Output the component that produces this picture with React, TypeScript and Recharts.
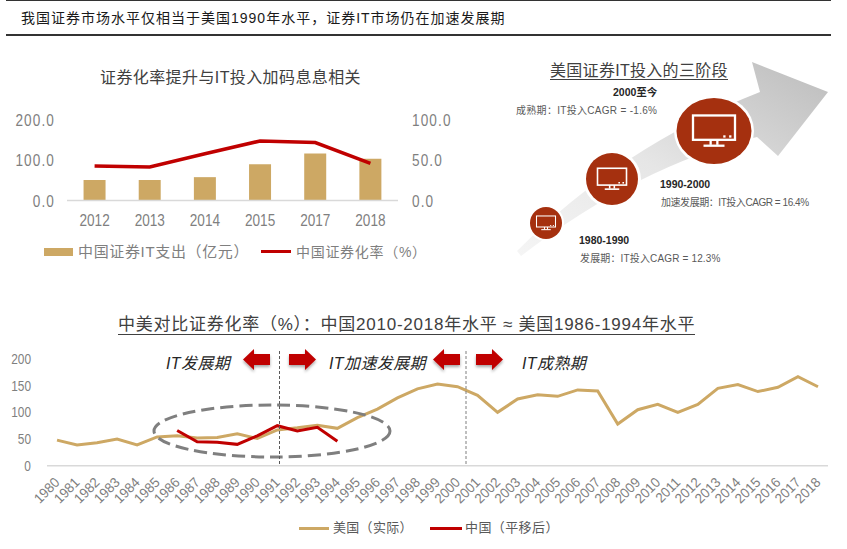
import { Bar, ComposedChart, Legend, Line, LineChart, XAxis, YAxis } from "recharts";

const CJK = '"Liberation Sans", "Noto Sans CJK SC", sans-serif';
const GOLD = "#cda864";
const RED = "#c00000";
const GREY = "#7f7f7f";
const BRICK = "#a5300f";

// top chart
const itYears = ["2012", "2013", "2014", "2015", "2017", "2018"];
const itSpend = [51, 51, 58, 90, 117, 104];
const secRate = [43, 41.6, 58, 74, 72, 46];
const itData = itYears.map((year, i) => ({ year, spend: itSpend[i], rate: secRate[i] }));

// bottom chart
const years = [
  "1980", "1981", "1982", "1983", "1984", "1985", "1986", "1987", "1988", "1989",
  "1990", "1991", "1992", "1993", "1994", "1995", "1996", "1997", "1998", "1999",
  "2000", "2001", "2002", "2003", "2004", "2005", "2006", "2007", "2008", "2009",
  "2010", "2011", "2012", "2013", "2014", "2015", "2016", "2017", "2018",
];
const usRate = [
  48, 39, 43, 50, 39, 54, 56, 52, 53, 60,
  51, 67, 71, 76, 70, 90, 106, 127, 144, 153,
  148, 132, 100, 125, 133, 130, 142, 140, 78, 105,
  115, 100, 115, 145, 152, 139, 147, 167, 148,
];
const chinaYears = ["1986", "1987", "1988", "1989", "1990", "1991", "1992", "1993", "1994"];
const chinaRate = [66, 45, 44, 40, 56, 75, 65, 72, 46];
const compareData = years.map((year, i) => {
  const c = chinaYears.indexOf(year);
  return { year, us: usRate[i], china: c >= 0 ? chinaRate[c] : null };
});

function Txt({ x, y, size, color = "#262626", spacing = 0, bold, italic, underline, children }: any) {
  return (
    <div
      style={{
        position: "absolute",
        left: x,
        top: y,
        fontSize: size,
        lineHeight: `${underline ? size + 1 : size + 4}px`,
        color,
        letterSpacing: spacing,
        fontWeight: bold ? 700 : 400,
        fontStyle: italic ? "italic" : "normal",
        whiteSpace: "nowrap",
        borderBottom: underline ? "1px solid #404040" : undefined,
      }}
    >
      {children}
    </div>
  );
}

// the source font is condensed, none is installed, so ticks are squeezed horizontally
function NarrowTick({ x, y, payload, size, squeeze, anchor, rotate, spacing, fixed, dy = 0 }: any) {
  const label = fixed ? Number(payload.value).toFixed(1) : payload.value;
  const turn = rotate ? ` rotate(${rotate})` : "";
  return (
    <text
      transform={`translate(${x},${y})${turn} scale(${squeeze},1)`}
      dy={dy}
      textAnchor={anchor}
      fontSize={size}
      letterSpacing={spacing}
      fill={GREY}
    >
      {label}
    </text>
  );
}

function Monitor({ cx, cy, w }: { cx: number; cy: number; w: number }) {
  const h = w * 0.58;
  const sw = Math.max(1, w * 0.055);
  const top = cy - h / 2 - w * 0.08;
  const bottom = top + h;
  return (
    <g stroke="#fff" strokeWidth={sw} fill="none">
      <rect x={cx - w / 2} y={top} width={w} height={h} />
      <line x1={cx - w * 0.08} x2={cx - w * 0.08} y1={bottom} y2={bottom + w * 0.12} />
      <line x1={cx + w * 0.08} x2={cx + w * 0.08} y1={bottom} y2={bottom + w * 0.12} />
      <line x1={cx - w * 0.25} x2={cx + w * 0.25} y1={bottom + w * 0.14} y2={bottom + w * 0.14} />
      <line x1={cx + w * 0.22} x2={cx + w * 0.3} y1={bottom - w * 0.08} y2={bottom - w * 0.08} strokeDasharray={`${sw} ${sw * 0.6}`} />
      <line x1={cx + w * 0.36} x2={cx + w * 0.44} y1={bottom - w * 0.08} y2={bottom - w * 0.08} strokeDasharray={`${sw} ${sw * 0.6}`} />
    </g>
  );
}

function RedArrow({ x, y, dir }: { x: number; y: number; dir: "left" | "right" }) {
  const pts =
    dir === "right"
      ? `${x},${y + 5} ${x + 16},${y + 5} ${x + 16},${y} ${x + 27},${y + 10.5} ${x + 16},${y + 21} ${x + 16},${y + 16} ${x},${y + 16}`
      : `${x + 27},${y + 5} ${x + 11},${y + 5} ${x + 11},${y} ${x},${y + 10.5} ${x + 11},${y + 21} ${x + 11},${y + 16} ${x + 27},${y + 16}`;
  return <polygon points={pts} fill={RED} filter="url(#arrowShadow)" />;
}

function TopLegend() {
  return (
    <div style={{ position: "relative", width: 400, height: 20, color: GREY, fontFamily: CJK }}>
      <span style={{ position: "absolute", left: 0, top: 6, width: 29, height: 8, background: GOLD }} />
      <span style={{ position: "absolute", left: 34, top: 0, fontSize: 15, letterSpacing: 0.65, lineHeight: "20px", whiteSpace: "nowrap" }}>中国证券IT支出（亿元）</span>
      <span style={{ position: "absolute", left: 217, top: 8, width: 30, height: 3, background: RED }} />
      <span style={{ position: "absolute", left: 252, top: 0, fontSize: 14, letterSpacing: 0.7, lineHeight: "20px", whiteSpace: "nowrap" }}>中国证券化率（%）</span>
    </div>
  );
}

function BottomLegend() {
  return (
    <div style={{ position: "relative", width: 300, height: 18, color: "#595959", fontSize: 13, fontFamily: CJK }}>
      <span style={{ position: "absolute", left: 0, top: 8, width: 30, height: 3, background: GOLD }} />
      <span style={{ position: "absolute", left: 34, top: 0, letterSpacing: 0.3, lineHeight: "18px", whiteSpace: "nowrap" }}>美国（实际）</span>
      <span style={{ position: "absolute", left: 131, top: 8, width: 32, height: 3, background: RED }} />
      <span style={{ position: "absolute", left: 166, top: 0, letterSpacing: 0.4, lineHeight: "18px", whiteSpace: "nowrap" }}>中国（平移后）</span>
    </div>
  );
}

export default function App() {
  return (
    <div style={{ position: "absolute", left: 0, top: 0, width: 847, height: 549, background: "#fff", overflow: "hidden", fontFamily: CJK }}>
      <div style={{ position: "absolute", left: 6, top: 0, width: 825, height: 1, background: "#333" }} />
      <div style={{ position: "absolute", left: 6, top: 34, width: 825, height: 2, background: "#333" }} />
      <Txt x={21} y={9} size={14} spacing={1} color="#1a1a1a">
        我国证券市场水平仅相当于美国1990年水平，证券IT市场仍在加速发展期
      </Txt>

      <Txt x={100} y={68} size={16} spacing={0.4} color="#404040">
        证券化率提升与IT投入加码息息相关
      </Txt>

      <div style={{ position: "absolute", left: 0, top: 100 }}>
        <ComposedChart width={480} height={180} data={itData} margin={{ top: 20, right: 30, bottom: 0, left: 0 }} barCategoryGap="30%">
          <XAxis
            dataKey="year"
            height={79.5}
            axisLine={{ stroke: "#d9d9d9", strokeWidth: 1.5 }}
            tickLine={false}
            tick={<NarrowTick size={17} squeeze={0.8} anchor="middle" dy={18} />}
          />
          <YAxis
            yAxisId="left"
            width={67}
            domain={[0, 200]}
            ticks={[0, 100, 200]}
            axisLine={false}
            tickLine={false}
            tick={<NarrowTick size={17} squeeze={0.8} anchor="end" spacing={1.4} fixed dy={6} />}
            tickMargin={6}
          />
          <YAxis
            yAxisId="right"
            orientation="right"
            width={52}
            domain={[0, 100]}
            ticks={[0, 50, 100]}
            axisLine={false}
            tickLine={false}
            tick={<NarrowTick size={17} squeeze={0.8} anchor="start" spacing={1.4} fixed dy={6} />}
            tickMargin={8}
          />
          <Legend
            layout="horizontal"
            verticalAlign="middle"
            wrapperStyle={{ left: 44, top: 142, width: 400 }}
            content={() => <TopLegend />}
          />
          <Bar yAxisId="left" dataKey="spend" fill={GOLD} isAnimationActive={false} />
          <Line yAxisId="right" dataKey="rate" type="linear" stroke={RED} strokeWidth={3.5} dot={false} isAnimationActive={false} />
        </ComposedChart>
      </div>

      <svg width={847} height={549} style={{ position: "absolute", left: 0, top: 0, pointerEvents: "none" }}>
        <defs>
          <linearGradient id="bigArrow" x1="0" y1="1" x2="1" y2="0">
            <stop offset="0%" stopColor="#f5f5f5" />
            <stop offset="45%" stopColor="#e6e6e6" />
            <stop offset="100%" stopColor="#bcbcbc" />
          </linearGradient>
          <filter id="arrowShadow" x="-30%" y="-30%" width="160%" height="170%">
            <feDropShadow dx="0" dy="2" stdDeviation="1.5" floodColor="#000" floodOpacity="0.35" />
          </filter>
        </defs>
        <path d="M517,251 Q622,146 760,92 L752,62 L828,92 L778,156 L757,137 Q640,165 521,256 Z" fill="url(#bigArrow)" />
        <ellipse cx={714} cy={131} rx={40} ry={36} fill="#fff" />
        <ellipse cx={714} cy={131} rx={37.5} ry={33} fill={BRICK} />
        <circle cx={612} cy={179} r={29} fill="#fff" />
        <circle cx={612} cy={179} r={26} fill={BRICK} />
        <circle cx={546} cy={223} r={18} fill="#fff" />
        <circle cx={546} cy={223} r={16} fill={BRICK} />
        <Monitor cx={714} cy={131} w={42} />
        <Monitor cx={612} cy={179} w={29} />
        <Monitor cx={546} cy={223} w={19} />
      </svg>

      <Txt x={550} y={62} size={16} spacing={0.3} underline color="#404040">
        美国证券IT投入的三阶段
      </Txt>
      <Txt x={613} y={85} size={10.5} bold>2000至今</Txt>
      <Txt x={516} y={104} size={10} spacing={0.3} color="#595959">成熟期：IT投入CAGR = -1.6%</Txt>
      <Txt x={660} y={177} size={10.5} bold>1990-2000</Txt>
      <Txt x={661} y={196} size={10} spacing={-0.45} color="#595959">加速发展期：IT投入CAGR = 16.4%</Txt>
      <Txt x={579} y={233} size={10.5} bold>1980-1990</Txt>
      <Txt x={580} y={252} size={10} spacing={0.15} color="#595959">发展期：IT投入CAGR = 12.3%</Txt>

      <Txt x={118} y={316} size={17} spacing={0.75} underline color="#404040">
        中美对比证券化率（%）：中国2010-2018年水平 ≈ 美国1986-1994年水平
      </Txt>

      <div style={{ position: "absolute", left: 0, top: 340 }}>
        <LineChart width={847} height={209} data={compareData} margin={{ top: 19, right: 19, bottom: 0, left: 0 }}>
          <XAxis
            dataKey="year"
            scale="band"
            height={83.3}
            interval={0}
            axisLine={{ stroke: "#d9d9d9", strokeWidth: 1.5 }}
            tickLine={false}
            tick={<NarrowTick size={14} squeeze={0.95} anchor="end" rotate={-45} dy={5} />}
            tickMargin={8}
          />
          <YAxis
            width={47}
            domain={[0, 200]}
            ticks={[0, 50, 100, 150, 200]}
            axisLine={false}
            tickLine={false}
            tick={<NarrowTick size={14} squeeze={0.85} anchor="end" dy={5} />}
            tickMargin={10}
          />
          <Legend
            layout="horizontal"
            verticalAlign="middle"
            wrapperStyle={{ left: 299, top: 179, width: 300 }}
            content={() => <BottomLegend />}
          />
          <Line dataKey="us" type="linear" stroke={GOLD} strokeWidth={3} dot={false} isAnimationActive={false} />
          <Line dataKey="china" type="linear" stroke={RED} strokeWidth={3} dot={false} connectNulls={false} isAnimationActive={false} />
        </LineChart>
      </div>

      <svg width={847} height={549} style={{ position: "absolute", left: 0, top: 0, pointerEvents: "none" }}>
        <ellipse cx={272} cy={431} rx={118} ry={26} fill="none" stroke={GREY} strokeWidth={3} strokeDasharray="13 6" />
        <line x1={279.5} x2={279.5} y1={351} y2={465} stroke="#595959" strokeWidth={1} strokeDasharray="3 2" />
        <line x1={466} x2={466} y1={351} y2={464} stroke="#7f7f7f" strokeWidth={1} strokeDasharray="3 2" />
        <RedArrow x={243} y={349} dir="left" />
        <RedArrow x={289} y={349} dir="right" />
        <RedArrow x={433} y={349} dir="left" />
        <RedArrow x={476} y={349} dir="right" />
      </svg>

      <Txt x={166} y={354} size={16} spacing={0.4} italic>IT发展期</Txt>
      <Txt x={329} y={354} size={16} spacing={0.4} italic>IT加速发展期</Txt>
      <Txt x={522} y={354} size={16} spacing={0.4} italic>IT成熟期</Txt>
    </div>
  );
}
